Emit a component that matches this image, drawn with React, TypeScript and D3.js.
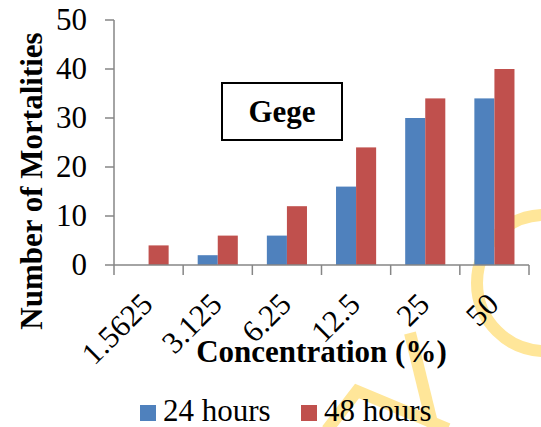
import React from "react";
import * as d3 from "d3";

const categories = ["1.5625", "3.125", "6.25", "12.5", "25", "50"];
const seriesNames = ["24 hours", "48 hours"];
const values24 = [0, 2, 6, 16, 30, 34];
const values48 = [4, 6, 12, 24, 34, 40];
const yTicks = [0, 10, 20, 30, 40, 50];
const colors = ["#4F81BD", "#C0504D"];

const W = 541;
const H = 427;

export default function App() {
  const left = 114;
  const right = 529;
  const top = 20;
  const bottom = 265;

  const x = d3
    .scaleBand<string>()
    .domain(categories)
    .range([left, right])
    .paddingInner(0.42)
    .paddingOuter(0.21);
  const xs = d3.scaleBand<string>().domain(seriesNames).range([0, x.bandwidth()]);
  const y = d3.scaleLinear().domain([0, 50]).range([bottom, top]);

  const step = x.step();
  const boundaries = d3.range(categories.length + 1).map((i) => left + i * step);
  const series = [values24, values48];

  return (
    <svg
      width={W}
      height={H}
      style={{ position: "absolute", left: 0, top: 0, background: "#fff" }}
    >
      <style>{`.t { font-family: "Liberation Serif"; fill: #000; }`}</style>
      <rect x={0} y={0} width={W} height={H} fill="#fff" />
      {/* watermark */}
      <g fill="none" stroke="#FFE699" strokeWidth={12} strokeLinecap="butt">
        <circle cx={545} cy={283} r={68} />
        <path d="M410,333 L433,427" />
        <path d="M327,430 L357,391 L448,429" />
      </g>

      {/* bars */}
      {series.map((vals, si) =>
        vals.map((v, i) => (
          <rect
            key={`${si}-${i}`}
            x={(x(categories[i]) as number) + (xs(seriesNames[si]) as number)}
            y={y(v)}
            width={xs.bandwidth()}
            height={bottom - y(v)}
            fill={colors[si]}
          />
        ))
      )}

      {/* axes */}
      <g stroke="#868686" strokeWidth={1.5}>
        <line x1={left} x2={left} y1={y(50)} y2={bottom} />
        {yTicks.map((t) => (
          <line key={t} x1={left - 9} x2={left} y1={y(t)} y2={y(t)} />
        ))}
        <line x1={left} x2={right} y1={bottom} y2={bottom} />
        {boundaries.map((b, i) => (
          <line key={i} x1={b} x2={b} y1={bottom} y2={bottom + 10} />
        ))}
      </g>
      {yTicks.map((t) => (
        <text key={t} className="t" x={87} y={y(t) + 10} textAnchor="end" fontSize={31}>
          {t}
        </text>
      ))}

      {/* x labels */}
      {categories.map((c) => {
        const cx = (x(c) as number) + x.bandwidth() / 2 + 6;
        const cy = 306;
        return (
          <text
            key={c}
            className="t"
            x={cx}
            y={cy}
            textAnchor="end"
            fontSize={31}
            transform={`rotate(-45 ${cx} ${cy})`}
          >
            {c}
          </text>
        );
      })}

      {/* axis titles */}
      <text className="t" x={(left + right) / 2} y={362} textAnchor="middle" fontSize={31} fontWeight="bold">
        Concentration (%)
      </text>
      <text
        className="t"
        x={0}
        y={0}
        textAnchor="middle"
        fontSize={31}
        fontWeight="bold"
        transform={`translate(42 181) rotate(-90)`}
      >
        Number of Mortalities
      </text>

      {/* Gege box */}
      <rect x={222} y={83} width={120} height={57} fill="#fff" stroke="#000" strokeWidth={2} />
      <text className="t" x={282} y={122} textAnchor="middle" fontSize={31} fontWeight="bold">
        Gege
      </text>

      {/* legend */}
      {seriesNames.map((s, i) => {
        const lx = i === 0 ? 140 : 301;
        return (
          <g key={s}>
            <rect x={lx} y={405} width={16} height={16} fill={colors[i]} />
            <text className="t" x={lx + 23} y={421} fontSize={31}>
              {s}
            </text>
          </g>
        );
      })}
    </svg>
  );
}
